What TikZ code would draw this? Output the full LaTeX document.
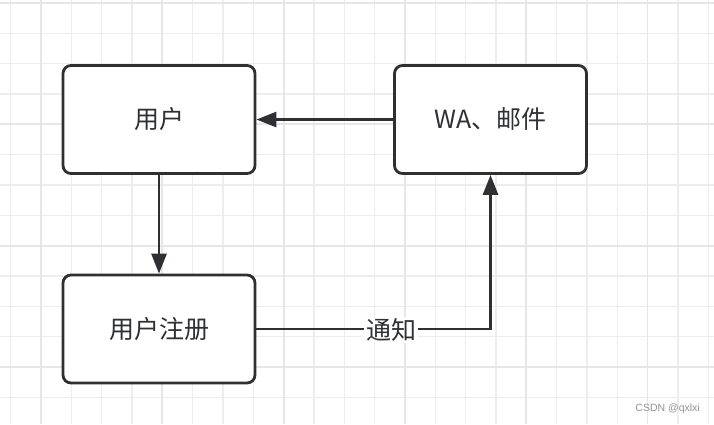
\documentclass[tikz,border=0pt]{standalone}
\usepackage{fontspec}
\setmainfont{Liberation Sans}
\newfontfamily\cjk{Noto Sans CJK SC}
\usetikzlibrary{arrows.meta}
\definecolor{gridminor}{HTML}{EDEDED}
\definecolor{gridmajor}{HTML}{E6E6E6}
\definecolor{ink}{HTML}{2E3033}
\tikzset{
  boxnode/.style={draw=ink, line width=2.8pt, rounded corners=8pt, fill=white,
    minimum width=192pt, minimum height=108pt, inner sep=0pt,
    font=\cjk\fontsize{25}{30}\selectfont, text=ink},
  conn/.style={draw=ink, line width=2.8pt},
  arr/.style={conn, -{Triangle[length=20pt,width=15pt]}},
  lbl/.style={fill=white, inner sep=2pt, font=\cjk\fontsize{25}{30}\selectfont, text=ink}
}
\begin{document}
\begin{tikzpicture}[x=1pt,y=-1pt]
\useasboundingbox (0,0) rectangle (714,424);
\fill[white] (0,0) rectangle (714,424);
% grid
\foreach \i in {0,...,23} {
  \pgfmathsetmacro{\xx}{10.7+30.33*\i}
  \draw[gridminor, line width=1.3pt] (\xx,0) -- (\xx,424);
}
\foreach \i in {0,...,14} {
  \pgfmathsetmacro{\yy}{3+30.33*\i}
  \draw[gridminor, line width=1.3pt] (0,\yy) -- (714,\yy);
}
\foreach \i in {0,...,5} {
  \pgfmathsetmacro{\xx}{41+121.3*\i}
  \draw[gridmajor, line width=1.8pt] (\xx,0) -- (\xx,424);
}
\foreach \i in {0,...,3} {
  \pgfmathsetmacro{\yy}{3+121.3*\i}
  \draw[gridmajor, line width=1.8pt] (0,\yy) -- (714,\yy);
}
% nodes
\node[boxnode] (user) at (159,119.5) {用户};
\node[boxnode] (wa) at (490.5,119.5) {WA、邮件};
\node[boxnode] (reg) at (159,329) {用户注册};
% connectors
\draw[arr] (wa.west) -- (user.east);
\draw[arr] (user.south) -- (reg.north);
\coordinate (turn) at (wa.south |- reg.east);
\draw[arr] (reg.east) -- (turn) -- (wa.south);
\node[lbl] (tz) at (391,330) {通知};
% watermark
\node[font=\fontsize{10.5}{12}\selectfont, text=gray!85, anchor=east, inner sep=0pt] (wm) at (700,409) {CSDN @qxlxi};
\end{tikzpicture}
\end{document}
